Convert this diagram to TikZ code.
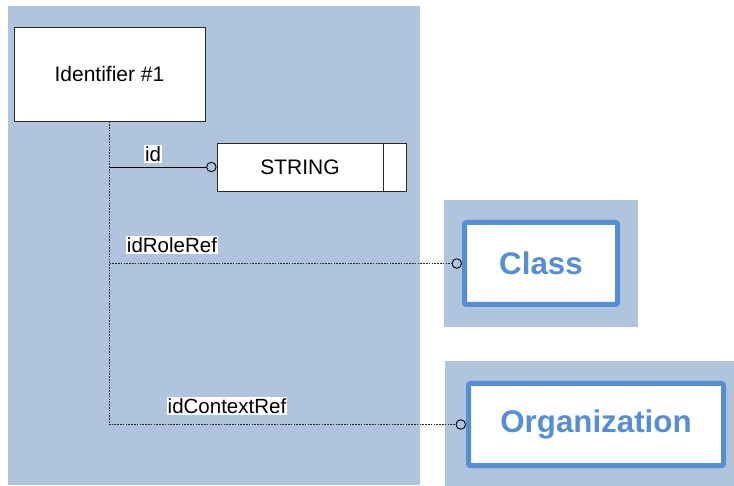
\documentclass[tikz,border=0pt]{standalone}
\usepackage{fontspec}
\setmainfont{Liberation Sans}
\definecolor{bgblue}{RGB}{176,196,222}
\definecolor{boxblue}{RGB}{85,142,213}
\definecolor{linegray}{RGB}{40,40,40}
\tikzset{
  bgarea/.style={fill=bgblue, draw=none},
  plainbox/.style={draw=linegray, fill=white, line width=0.9pt, inner sep=0pt, font=\fontsize{21}{24}\selectfont},
  refbox/.style={draw=boxblue, fill=white, line width=5pt, rounded corners=2pt, inner sep=0pt, text=boxblue, font=\fontsize{31.3}{36}\selectfont\bfseries},
  ringend/.style={circle, draw=black, fill=none, line width=0.9pt, inner sep=0pt, minimum size=9.5pt, anchor=east},
  lbl/.style={fill=white, inner sep=1.2pt, font=\fontsize{20.5}{24}\selectfont},
  dotline/.style={draw=linegray, line width=0.9pt, dash pattern=on 1.6pt off 1.2pt},
  solidline/.style={draw=black, line width=0.9pt}
}
\begin{document}
\begin{tikzpicture}[x=1pt,y=-1pt]
\useasboundingbox (0,0) rectangle (734,486);
% backgrounds
\fill[bgarea] (8,6) rectangle (420,485);
\fill[bgarea] (444,200) rectangle (638,327);
\fill[bgarea] (445,361) rectangle (734,486);
% boxes
\node[plainbox, minimum width=191pt, minimum height=94pt] (ident) at (109.5,74) {Identifier \#1};
\node[plainbox, minimum width=166pt, minimum height=48pt] (string) at (300,167) {STRING};
\node[plainbox, minimum width=23pt, minimum height=48pt] (strtail) at (394.5,167) {};
\node[refbox, minimum width=153pt, minimum height=82pt] (class) at (541,263.5) {Class};
\node[refbox, minimum width=255pt, minimum height=82pt] (org) at (596,424.5) {Organization};
% ring ends
\node[ringend] (r1) at (string.west) {};
\node[ringend] (r2) at (class.west -| 462,0) {};
\node[ringend] (r3) at (org.west -| 466,0) {};
% connectors
\coordinate (b1) at (ident.south |- r1.west);
\coordinate (b2) at (ident.south |- r2.west);
\coordinate (b3) at (ident.south |- r3.west);
\draw[dotline] (ident.south) -- (b3) -- (r3.west);
\draw[dotline] (b2) -- (r2.west);
\draw[solidline] (b1) -- (r1.west);
% labels
\node[lbl] (lid) at (153,154) {id};
\node[lbl] (lrole) at (172,245) {idRoleRef};
\node[lbl] (lctx) at (227,406) {idContextRef};
\end{tikzpicture}
\end{document}
